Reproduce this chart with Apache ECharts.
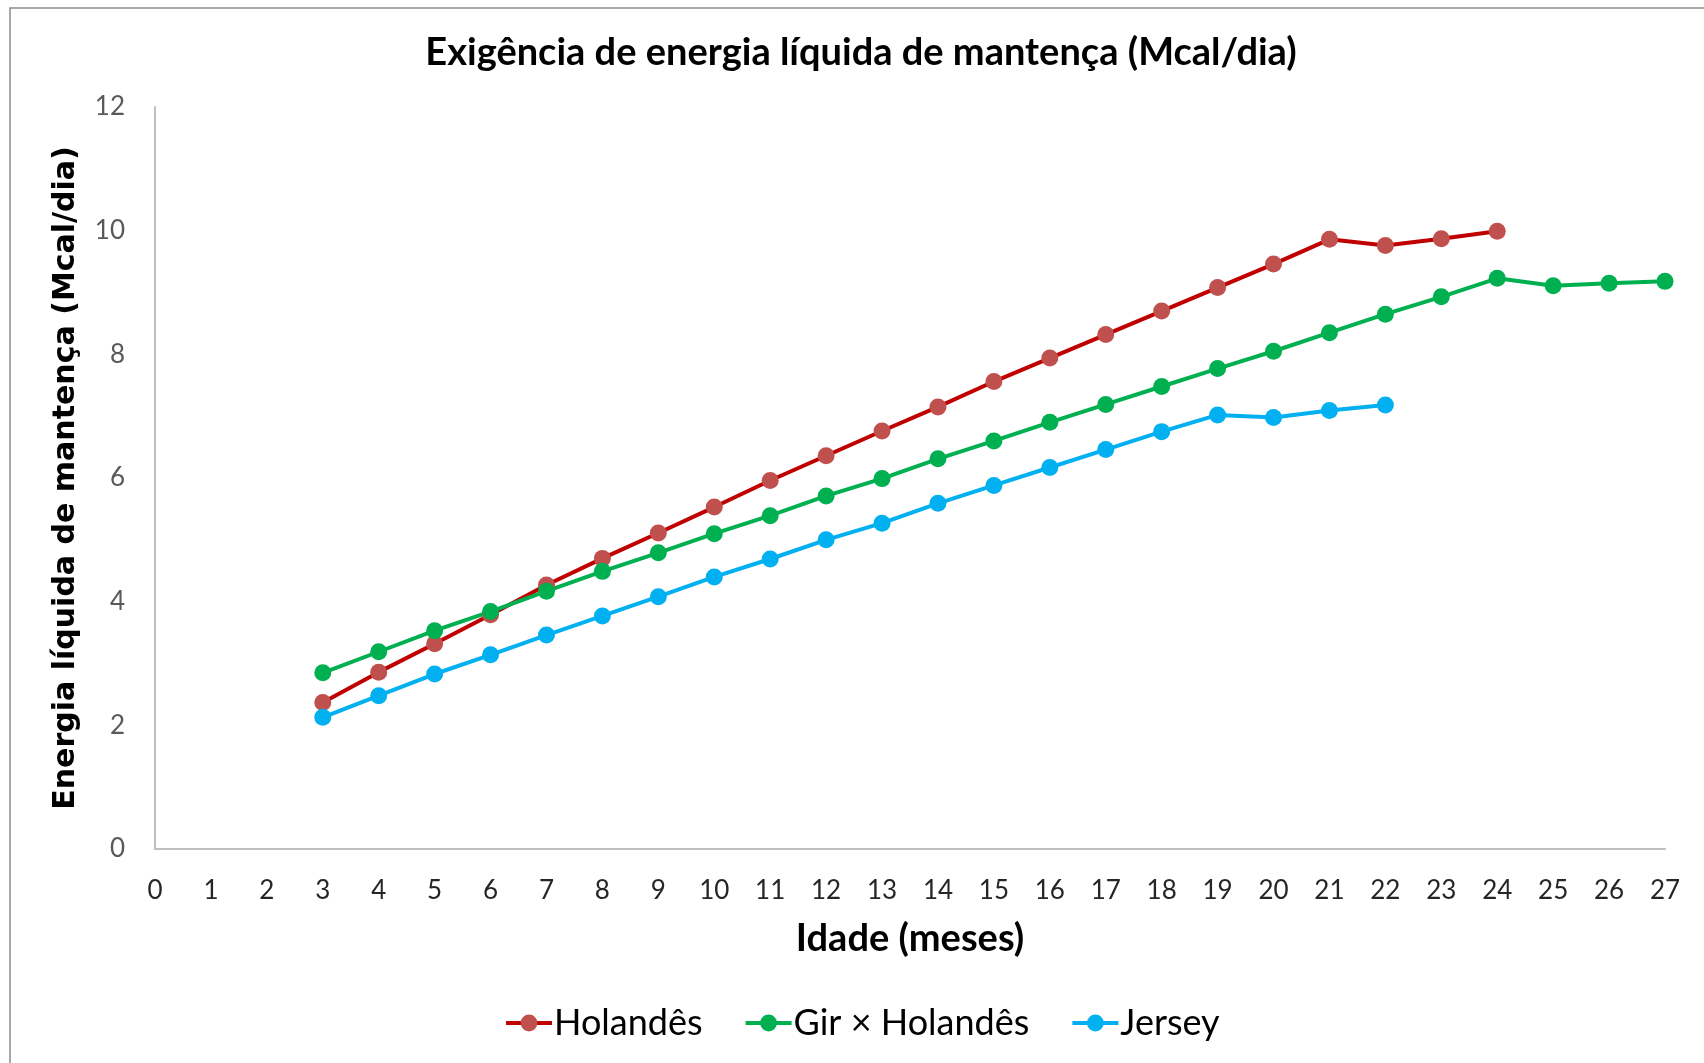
<!DOCTYPE html>
<html>
<head>
<meta charset="utf-8">
<script src="https://cdn.jsdelivr.net/npm/echarts@6/dist/echarts.min.js"></script>
<style>html,body{margin:0;padding:0;background:#fff}#c{width:1704px;height:1063px}</style>
</head>
<body>
<div id="c"></div>
<script>
const months = [3,4,5,6,7,8,9,10,11,12,13,14,15,16,17,18,19,20,21,22,23,24,25,26,27];
const holandes = [2.37,2.86,3.32,3.79,4.27,4.70,5.11,5.53,5.96,6.36,6.76,7.15,7.56,7.94,8.32,8.70,9.08,9.46,9.86,9.76,9.87,9.99];
const girHolandes = [2.85,3.19,3.53,3.84,4.17,4.49,4.79,5.10,5.39,5.71,5.99,6.31,6.60,6.90,7.19,7.48,7.77,8.05,8.35,8.65,8.93,9.23,9.11,9.15,9.18];
const jersey = [2.13,2.48,2.83,3.14,3.46,3.77,4.08,4.40,4.69,5.00,5.27,5.59,5.88,6.17,6.46,6.75,7.02,6.98,7.09,7.18];
const xTicks = [0,27,1];
const yTicks = [0,12,2];

function pairs(vals){ return vals.map((v,i)=>[months[i], v]); }

const chart = echarts.init(document.getElementById('c'));
const mk = (name, vals, lineColor, markerColor) => ({
  name, type:'line', data: pairs(vals),
  symbol:'circle', symbolSize:17,
  lineStyle:{color:lineColor, width:4},
  itemStyle:{color:markerColor, borderWidth:0},
  emphasis:{disabled:true}
});
chart.setOption({
  animation:false,
  backgroundColor:'#fff',
  graphic:[{type:'rect', shape:{x:10,y:8,width:1800,height:1200}, style:{fill:'none', stroke:'#8c8c8c', lineWidth:1.5}, silent:true}],
  title:{text:'Exigência de energia líquida de mantença (Mcal/dia)', left:856, top:29, textAlign:'center',
    textStyle:{fontFamily:'Lato', fontWeight:'bold', fontSize:38, color:'#000'}},
  grid:{left:155, right:39, top:107, bottom:214},
  legend:{bottom:17, left:499, itemWidth:46, itemHeight:21, itemGap:41,
    lineStyle:{width:4},
    textStyle:{fontFamily:'Lato', fontSize:36, color:'#000', padding:[0,0,0,-3]},
    data:['Holandês','Gir × Holandês','Jersey']},
  xAxis:{type:'value', min:xTicks[0], max:xTicks[1], interval:xTicks[2],
    name:'Idade (meses)', nameLocation:'middle', nameGap:71,
    nameTextStyle:{fontFamily:'Lato', fontWeight:'bold', fontSize:38, color:'#000'},
    axisLine:{show:true, lineStyle:{color:'#bfbfbf', width:2}},
    axisTick:{show:false}, splitLine:{show:false},
    axisLabel:{fontFamily:'Lato', fontSize:26, color:'#262626', margin:29}},
  yAxis:{type:'value', min:yTicks[0], max:yTicks[1], interval:yTicks[2],
    name:'Energia líquida de mantença (Mcal/dia)', nameLocation:'middle', nameGap:74,
    nameTextStyle:{fontFamily:'DejaVu Sans', fontWeight:'bold', fontSize:30, color:'#000'},
    axisLine:{show:true, lineStyle:{color:'#bfbfbf', width:2}},
    axisTick:{show:false}, splitLine:{show:false},
    axisLabel:{fontFamily:'Lato', fontSize:26, color:'#595959', margin:30}},
  series:[
    mk('Holandês', holandes, '#C00000', '#C0504D'),
    mk('Gir × Holandês', girHolandes, '#00B050', '#00B050'),
    mk('Jersey', jersey, '#00B0F0', '#00B0F0')
  ]
});
</script>
</body>
</html>
